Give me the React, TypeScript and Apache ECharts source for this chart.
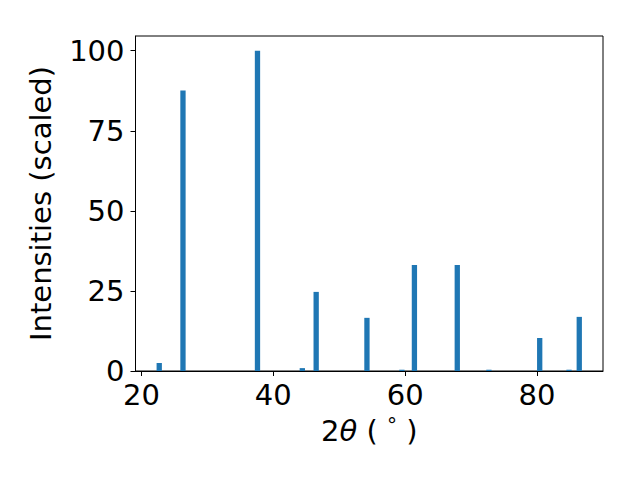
import React, { useEffect, useRef } from "react";
import * as echarts from "echarts";

const twoTheta = [22.7, 26.3, 37.6, 44.4, 46.5, 54.2, 59.5, 61.4, 67.9, 72.7, 80.4, 84.85, 86.4];
const intensities = [2.5, 87.6, 100, 0.9, 24.7, 16.6, 0.4, 33.1, 33.1, 0.4, 10.3, 0.4, 16.9];
const xTicks = [20, 40, 60, 80];
const yTicks = [0, 25, 50, 75, 100];

export default function App() {
  const ref = useRef<HTMLDivElement>(null);
  useEffect(() => {
    if (!ref.current) return;
    const chart = echarts.init(ref.current, undefined, { renderer: "svg" });
    const font = "DejaVu Sans";
    const fs = 29;
    chart.setOption({
      animation: false,
      backgroundColor: "#ffffff",
      grid: {
        left: 135.5,
        right: 37,
        top: 36,
        bottom: 109,
        show: true,
        borderColor: "#000",
        borderWidth: 1,
        backgroundColor: "transparent",
      },
      xAxis: {
        type: "value",
        min: 19.1,
        max: 90,
        name: "{a|2}{b|θ}{a| ( }{s|°}{a| )}",
        nameLocation: "middle",
        nameGap: 44,
        nameTextStyle: {
          rich: {
            a: { fontFamily: font, fontSize: fs, color: "#000" },
            b: { fontFamily: font, fontSize: fs, fontStyle: "italic", color: "#000" },
            s: { fontFamily: font, fontSize: 20, color: "#000", verticalAlign: "top", padding: [0, 0, 12, 0] },
          },
        },
        axisLine: { show: true, onZero: false, lineStyle: { color: "#000", width: 1 } },
        axisTick: { show: true, length: 5, customValues: xTicks, lineStyle: { color: "#000" } },
        axisLabel: { customValues: xTicks, fontFamily: font, fontSize: fs, color: "#000", margin: 9 },
        splitLine: { show: false },
      },
      yAxis: {
        type: "value",
        min: 0,
        max: 104.6,
        name: "Intensities (scaled)",
        nameLocation: "middle",
        nameGap: 80,
        nameTextStyle: { fontFamily: font, fontSize: fs, color: "#000" },
        axisLine: { show: true, lineStyle: { color: "#000", width: 1 } },
        axisTick: { show: true, length: 5, customValues: yTicks, lineStyle: { color: "#000" } },
        axisLabel: { customValues: yTicks, fontFamily: font, fontSize: fs, color: "#000", margin: 11 },
        splitLine: { show: false },
      },
      series: [
        {
          type: "bar",
          data: twoTheta.map((x, i) => [x, intensities[i]]),
          barWidth: 5.3,
          itemStyle: { color: "#1f77b4" },
        },
      ],
    });
    return () => chart.dispose();
  }, []);
  return (
    <div
      ref={ref}
      style={{ position: "fixed", left: 0, top: 0, width: 640, height: 480 }}
    />
  );
}
